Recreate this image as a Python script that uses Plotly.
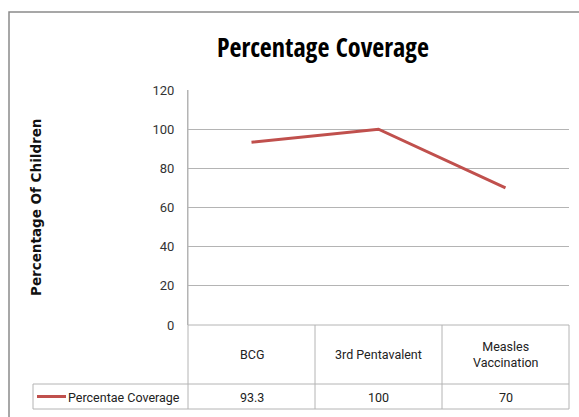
import plotly.graph_objects as go

categories = ["BCG", "3rd Pentavalent", "Measles<br>Vaccination"]
values = [93.3, 100, 70]
value_labels = ["93.3", "100", "70"]
series_name = "Percentae Coverage"
title_text = "Percentage Coverage"
y_title = "Percentage Of Children"
y_ticks = [0, 20, 40, 60, 80, 100, 120]

W, H = 579, 417
L, R, T, B = 188, 10, 90, 92
PW, PH = W - L - R, H - T - B
FONT = "Roboto, sans-serif"
TITLE_FONT = "Open Sans Condensed, Roboto, sans-serif"
GRID = "#b4b4b4"
RED = "#c0504d"

def px(x):
    return (x - L) / PW

def py(y):
    return (H - B - y) / PH

xs = list(range(len(categories)))

fig = go.Figure()
fig.add_trace(go.Scatter(x=xs, y=values, mode="lines", name=series_name,
                         line=dict(color=RED, width=3), showlegend=False))

shapes = []
shapes.append(dict(type="rect", xref="paper", yref="paper", x0=px(9), x1=px(585),
                   y0=py(430), y1=py(12), line=dict(color="#8a8a8a", width=1.5)))
row1, row2, row3 = 325, 384, 409
shapes.append(dict(type="line", xref="paper", yref="paper", x0=px(188), x1=px(569),
                   y0=py(row1), y1=py(row1), line=dict(color=GRID, width=1)))
shapes.append(dict(type="line", xref="paper", yref="paper", x0=px(33), x1=px(569),
                   y0=py(row2), y1=py(row2), line=dict(color=GRID, width=1)))
shapes.append(dict(type="line", xref="paper", yref="paper", x0=px(33), x1=px(569),
                   y0=py(row3), y1=py(row3), line=dict(color=GRID, width=1)))
shapes.append(dict(type="line", xref="paper", yref="paper", x0=px(33), x1=px(33),
                   y0=py(row2), y1=py(row3), line=dict(color=GRID, width=1)))
for k in range(len(categories) + 1):
    xb = k / len(categories)
    y_top = row1 if k > 0 else 90
    shapes.append(dict(type="line", xref="paper", yref="paper", x0=xb, x1=xb,
                       y0=py(y_top), y1=py(row3), line=dict(color=GRID, width=1)))
shapes.append(dict(type="line", xref="paper", yref="paper", x0=px(37), x1=px(66),
                   y0=py(396.5), y1=py(396.5), line=dict(color=RED, width=3)))

annotations = []
for i, (c, v) in enumerate(zip(categories, value_labels)):
    annotations.append(dict(x=i, xref="x", y=py(354.5), yref="paper", text=c,
                            showarrow=False, font=dict(family=FONT, size=12.5, color="#222"),
                            xanchor="center", yanchor="middle"))
    annotations.append(dict(x=i, xref="x", y=py(397), yref="paper", text=v,
                            showarrow=False, font=dict(family=FONT, size=12.5, color="#222"),
                            xanchor="center", yanchor="middle"))
annotations.append(dict(x=px(66), xref="paper", y=py(397), yref="paper", text=series_name,
                        showarrow=False, font=dict(family=FONT, size=12.5, color="#222"),
                        xanchor="left", yanchor="middle"))
annotations.append(dict(x=px(36), xref="paper", y=py(208), yref="paper", text="<b>" + y_title + "</b>",
                        showarrow=False, textangle=-90,
                        font=dict(family="DejaVu Sans, Verdana, sans-serif", size=13.5, color="#111"),
                        xanchor="center", yanchor="middle"))
annotations.append(dict(x=px(323), xref="paper", y=py(47), yref="paper", text="<b>" + title_text + "</b>",
                        showarrow=False, font=dict(family=TITLE_FONT, size=26, color="#000"),
                        xanchor="center", yanchor="middle"))

fig.update_layout(
    width=W, height=H,
    margin=dict(l=L, r=R, t=T, b=B),
    paper_bgcolor="white", plot_bgcolor="white",
    shapes=shapes, annotations=annotations,
    xaxis=dict(range=[-0.5, 2.5], showticklabels=False, showgrid=False, zeroline=False,
               showline=False, fixedrange=True),
    yaxis=dict(range=[0, 120], tickvals=y_ticks, showgrid=True, gridcolor=GRID, gridwidth=1,
               zeroline=False, showline=True, linecolor=GRID, linewidth=1,
               ticks="outside", ticklen=10, tickcolor="rgba(0,0,0,0)",
               tickfont=dict(family=FONT, size=13, color="#333")),
)
fig.write_html("out.html")
